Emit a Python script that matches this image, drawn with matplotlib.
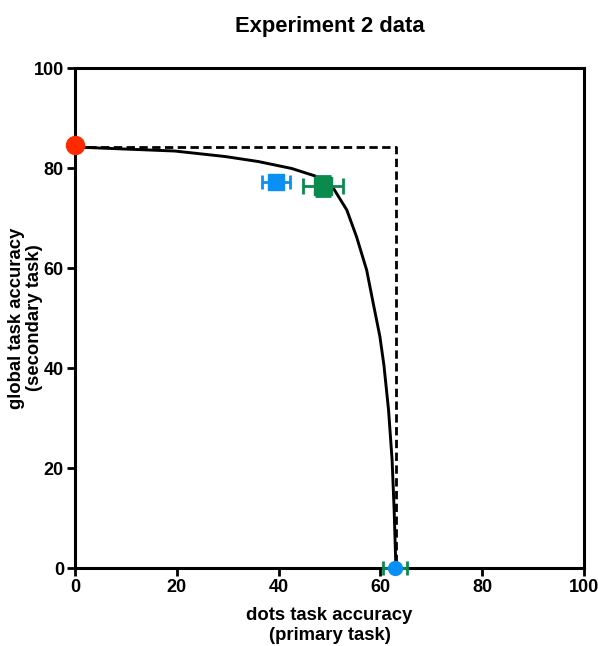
import numpy as np
import matplotlib.pyplot as plt

plt.rcParams['font.family'] = ['Liberation Sans', 'DejaVu Sans']
plt.rcParams['font.weight'] = 'bold'

# model curve
curve_x = [0, 9.8, 19.6, 29.5, 36.0, 42.6, 47.2, 50.8, 53.4, 55.3, 57.3, 58.6,
           59.9, 60.7, 61.6, 62.3, 62.7, 63.0, 63.1]
curve_y = [84.2, 83.8, 83.4, 82.3, 81.3, 79.9, 78.4, 75.9, 71.6, 66.3, 59.6, 52.9,
           46.3, 40.5, 31.6, 21.6, 11.6, 1.6, 0.0]

# independence bound
bound_x = [0, 63.1, 63.1]
bound_y = [84.2, 84.2, 0]

# single-task baselines
red_x, red_y = 0, 84.6
# dual-task condition means with SEM
blue_x, blue_y, blue_xerr, blue_yerr = 39.5, 77.2, 2.8, 1.2
green_x, green_y, green_xerr, green_yerr = 48.7, 76.4, 3.9, 2.0
base_x, base_y, base_xerr = 62.9, 0.0, 2.3

blue = '#0A90F5'
green = '#0B8A4E'
red = '#FF2A00'

fig = plt.figure(figsize=(5.98, 6.46), dpi=100)
ax = fig.add_axes([0.1254, 0.1207, 0.8512, 0.774])

ax.plot(bound_x, bound_y, color='black', linestyle=(0, (3, 1.6)), lw=2)
ax.plot(curve_x, curve_y, color='black', lw=2.1, solid_joinstyle='round')

ax.errorbar(base_x, base_y, xerr=base_xerr, fmt='none', ecolor=green, elinewidth=2,
            capsize=5, capthick=2, clip_on=False, zorder=4)
ax.plot(base_x, base_y, 'o', color=blue, ms=10, clip_on=False, zorder=5)

ax.errorbar(blue_x, blue_y, xerr=blue_xerr, yerr=blue_yerr, fmt='s', color=blue, ms=11,
            elinewidth=2, capsize=5, capthick=2, zorder=4)
ax.errorbar(green_x, green_y, xerr=green_xerr, yerr=green_yerr, fmt='s', color=green, ms=13,
            elinewidth=2, capsize=6, capthick=2, zorder=4)

ax.plot(red_x, red_y, 'o', color=red, ms=13, clip_on=False, zorder=6)

ax.set_xlim(0, 100)
ax.set_ylim(0, 100)
ax.set_xticks(np.arange(0, 101, 20))
ax.set_yticks(np.arange(0, 101, 20))
for s in ax.spines.values():
    s.set_linewidth(2.2)
ax.tick_params(direction='out', length=6, width=2, labelsize=13, pad=2)
for lab in ax.get_xticklabels() + ax.get_yticklabels():
    lab.set_fontweight('bold')

ax.set_xlabel('dots task accuracy\n(primary task)', fontsize=13.3, fontweight='bold',
              labelpad=8, linespacing=1.2)
ax.set_ylabel('global task accuracy\n(secondary task)', fontsize=13.3, fontweight='bold',
              linespacing=1.1)
ax.yaxis.set_label_coords(-0.063, 0.5)
ax.set_title('Experiment 2 data', fontsize=15.8, fontweight='bold', pad=26)

fig.savefig('out.png', dpi=100)
